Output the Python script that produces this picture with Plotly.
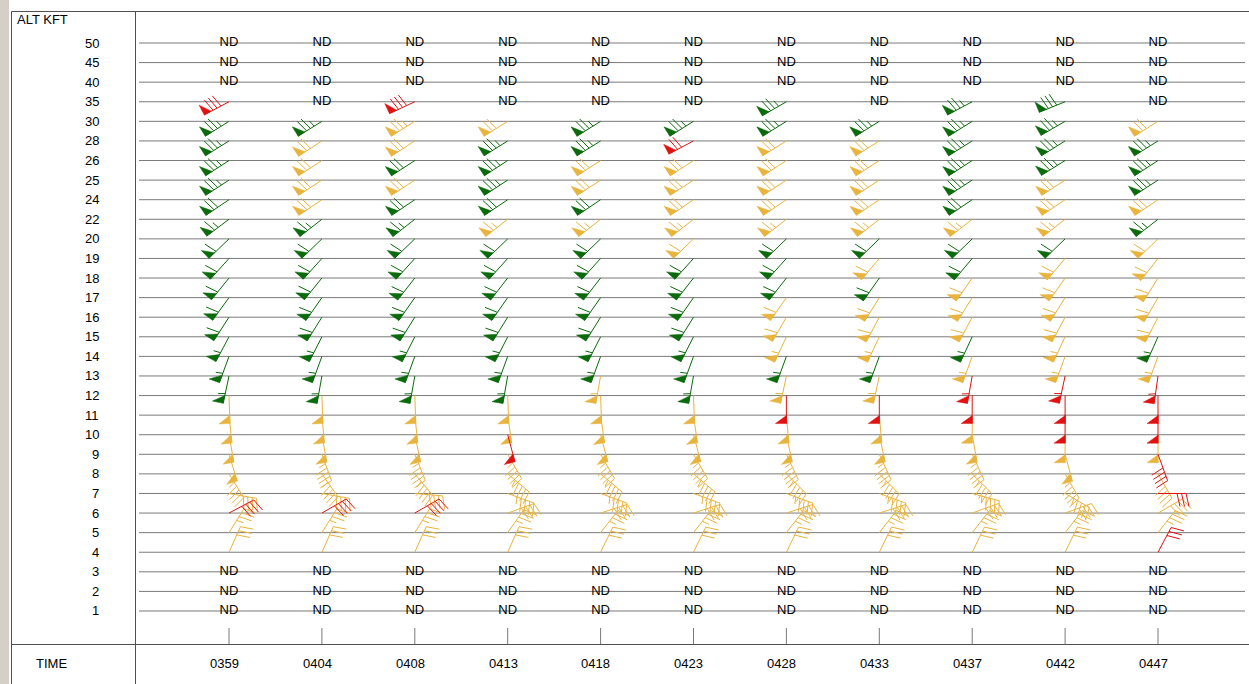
import numpy as np
import plotly.graph_objects as go

times = ['0359', '0404', '0408', '0413', '0418', '0423', '0428', '0433', '0437', '0442', '0447']
levels = [50, 45, 40, 35, 30, 28, 26, 25, 24, 22, 20, 19, 18, 17, 16, 15, 14, 13, 12, 11, 10, 9, 8, 7, 6, 5, 4, 3, 2, 1]
barb_levels = [35, 30, 28, 26, 25, 24, 22, 20, 19, 18, 17, 16, 15, 14, 13, 12, 11, 10, 9, 8, 7, 6, 5, 4]
nd_levels = [50, 45, 40, 3, 2, 1]

# quality colour codes per time (levels 35 .. 4), '-' = no data
qc_0359 = "RGGGGGGGGGGGGGGYYYYYYRYY"
qc_0404 = "-GYYYYGGGGGGGGGYYYYYYRYY"
qc_0408 = "RYYGYGGGGGGGGGGYYYYYYRYY"
qc_0413 = "-YGGGGYGGGGGGGGYYRYYYYYY"
qc_0418 = "-GGYYGYGGGGGGGYYYYYYYYYY"
qc_0423 = "-GRYYYYYGGGGGGGYYYYYYYYY"
qc_0428 = "GGYYYYYGGGYYYGYRYYYYYYYY"
qc_0433 = "-GYYYYYGYGYYYGYRYYYYYYYY"
qc_0437 = "GGGGGGYGGYYYGYRRYYYYYYYY"
qc_0442 = "GGGGYYYGYYYYYYRRRYYYYYYY"
qc_0447 = "-YGGGYGYYYYYGYRRRYRYRYYR"

# wind direction (deg, from) per time (levels 35 .. 4)
dir_0359 = [242, 238, 238, 237, 237, 236, 233, 226, 222, 219, 216, 213, 208, 200, 192, 178, 174, 170, 163, 148, 100, 62, 32, 24]
dir_0404 = [0, 238, 237, 237, 237, 236, 232, 226, 222, 219, 215, 212, 207, 200, 190, 178, 175, 170, 160, 145, 100, 60, 32, 24]
dir_0408 = [245, 238, 237, 237, 237, 236, 232, 226, 222, 218, 215, 212, 207, 200, 190, 178, 174, 168, 158, 140, 95, 60, 32, 24]
dir_0413 = [0, 238, 238, 237, 237, 236, 232, 226, 222, 218, 215, 212, 207, 200, 190, 178, 172, 165, 150, 130, 110, 70, 35, 24]
dir_0418 = [0, 238, 238, 237, 237, 236, 232, 226, 222, 218, 215, 212, 207, 200, 190, 178, 172, 165, 150, 130, 110, 72, 38, 26]
dir_0423 = [0, 238, 242, 237, 237, 236, 232, 226, 222, 218, 215, 212, 207, 200, 190, 178, 172, 165, 150, 130, 110, 72, 38, 26]
dir_0428 = [240, 238, 238, 237, 237, 236, 232, 226, 222, 218, 215, 210, 205, 200, 192, 180, 175, 168, 155, 135, 110, 72, 38, 26]
dir_0433 = [0, 238, 238, 237, 237, 236, 232, 226, 220, 215, 212, 208, 205, 200, 192, 180, 175, 168, 155, 135, 110, 72, 38, 26]
dir_0437 = [242, 238, 238, 237, 237, 236, 232, 226, 220, 215, 212, 208, 205, 200, 190, 180, 180, 170, 155, 135, 105, 70, 38, 26]
dir_0442 = [248, 240, 238, 238, 237, 236, 232, 226, 220, 215, 212, 208, 205, 200, 192, 180, 180, 180, 165, 150, 120, 70, 38, 26]
dir_0447 = [0, 238, 238, 237, 237, 236, 232, 226, 218, 212, 210, 207, 204, 200, 188, 180, 180, 180, 160, 150, 90, 60, 38, 28]

# wind speed (kt) per time (levels 35 .. 4)
spd_0359 = [80, 75, 75, 75, 75, 70, 65, 60, 60, 60, 60, 60, 55, 55, 55, 50, 50, 50, 50, 45, 40, 40, 35, 30]
spd_0404 = [0, 75, 70, 70, 70, 70, 65, 60, 60, 60, 60, 60, 55, 55, 55, 50, 50, 50, 45, 45, 40, 40, 35, 30]
spd_0408 = [80, 75, 70, 70, 70, 70, 65, 60, 60, 60, 60, 60, 55, 55, 55, 50, 50, 50, 45, 45, 40, 40, 35, 30]
spd_0413 = [0, 70, 75, 75, 75, 70, 65, 60, 60, 60, 60, 60, 55, 55, 55, 50, 50, 50, 45, 45, 45, 40, 35, 30]
spd_0418 = [0, 75, 75, 70, 70, 70, 65, 60, 60, 60, 60, 60, 55, 55, 55, 50, 50, 50, 45, 45, 45, 40, 35, 30]
spd_0423 = [0, 75, 70, 70, 70, 70, 65, 60, 60, 60, 60, 60, 55, 55, 55, 50, 50, 50, 45, 45, 45, 40, 35, 30]
spd_0428 = [75, 75, 70, 70, 70, 70, 65, 60, 60, 60, 60, 60, 55, 55, 55, 50, 50, 50, 45, 45, 45, 40, 35, 30]
spd_0433 = [0, 75, 70, 70, 70, 70, 65, 60, 60, 60, 60, 60, 55, 55, 55, 50, 50, 50, 45, 45, 45, 40, 35, 30]
spd_0437 = [75, 75, 75, 75, 75, 70, 65, 60, 60, 60, 60, 60, 55, 55, 55, 50, 50, 50, 45, 45, 45, 40, 35, 30]
spd_0442 = [80, 75, 75, 75, 70, 70, 65, 60, 60, 60, 60, 60, 55, 55, 55, 50, 50, 50, 50, 45, 45, 40, 35, 30]
spd_0447 = [0, 70, 75, 75, 75, 70, 65, 60, 60, 60, 60, 60, 55, 55, 55, 50, 50, 50, 40, 40, 30, 40, 35, 30]

qc_all = [qc_0359, qc_0404, qc_0408, qc_0413, qc_0418, qc_0423, qc_0428, qc_0433, qc_0437, qc_0442, qc_0447]
dir_all = [dir_0359, dir_0404, dir_0408, dir_0413, dir_0418, dir_0423, dir_0428, dir_0433, dir_0437, dir_0442, dir_0447]
spd_all = [spd_0359, spd_0404, spd_0408, spd_0413, spd_0418, spd_0423, spd_0428, spd_0433, spd_0437, spd_0442, spd_0447]

colors = {'G': '#0b6a0b', 'Y': '#e8b43e', 'R': '#e01212'}

W, H = 1249, 684
x_px0, x_step = 229.0, 92.9
y_px0, y_step = 43.0, 19.586
x_range = [-x_px0 / x_step, (W - x_px0) / x_step]
y_range = [(H - y_px0) / y_step, -y_px0 / y_step]
sx = W / (x_range[1] - x_range[0])
sy = H / (y_range[0] - y_range[1])
lvl_idx = {lv: k for k, lv in enumerate(levels)}

STAFF = 28.0


def barb(i, k, d, s):
    th = np.radians(d)
    ux, uy = np.sin(th), -np.cos(th)
    px, py = -uy, ux

    def pt(a, b):
        return (i + a / sx, k + b / sy)

    def along(pos, off=0.0, fwd=0.0):
        return pt(ux * (pos + fwd) + px * off, uy * (pos + fwd) + py * off)

    lines, polys = [], []
    lines.append([along(0), along(STAFF)])
    s5 = int(round(s / 5.0)) * 5
    n50, rem = divmod(s5, 50)
    n10, rem = divmod(rem, 10)
    n5 = rem // 5
    pos = STAFF
    for _ in range(n50):
        polys.append([along(pos), along(pos - 8), along(pos, 11), along(pos)])
        pos -= 10
    for _ in range(n10):
        lines.append([along(pos), along(pos, 13, 3)])
        pos -= 4.5
    for _ in range(n5):
        lines.append([along(pos), along(pos, 7, 1.5)])
        pos -= 4.5
    return lines, polys


seg = {c: ([], []) for c in colors}
poly = {c: ([], []) for c in colors}
nd_x, nd_y = [], []
for i, t in enumerate(times):
    for lv in nd_levels:
        nd_x.append(i)
        nd_y.append(lvl_idx[lv])
    for j, lv in enumerate(barb_levels):
        q = qc_all[i][j]
        k = lvl_idx[lv]
        if q == '-':
            nd_x.append(i)
            nd_y.append(k)
            continue
        ls, ps = barb(i, k, dir_all[i][j], spd_all[i][j])
        for ln in ls:
            for (a, b) in ln:
                seg[q][0].append(a)
                seg[q][1].append(b)
            seg[q][0].append(None)
            seg[q][1].append(None)
        for pg in ps:
            for (a, b) in pg:
                poly[q][0].append(a)
                poly[q][1].append(b)
            poly[q][0].append(None)
            poly[q][1].append(None)

fig = go.Figure()
for c, col in colors.items():
    fig.add_trace(go.Scatter(x=seg[c][0], y=seg[c][1], mode='lines',
                             line=dict(color=col, width=1), hoverinfo='skip', showlegend=False))
    fig.add_trace(go.Scatter(x=poly[c][0], y=poly[c][1], mode='lines', fill='toself',
                             fillcolor=col, line=dict(color=col, width=0.5),
                             hoverinfo='skip', showlegend=False))

fig.add_trace(go.Scatter(x=nd_x, y=nd_y, mode='text', text=['ND'] * len(nd_x),
                         textfont=dict(family='Arial', size=13, color='#000000'),
                         textposition='middle center', hoverinfo='skip', showlegend=False))

shapes = []
GRID = '#7a7a7a'
for lv in levels:
    shapes.append(dict(type='line', xref='paper', yref='y', x0=139 / W, x1=1245 / W,
                       y0=lvl_idx[lv], y1=lvl_idx[lv], line=dict(color=GRID, width=1), layer='below'))
for i in range(len(times)):
    shapes.append(dict(type='line', xref='x', yref='paper', x0=i, x1=i,
                       y0=1 - 628 / H, y1=1 - 645 / H, line=dict(color=GRID, width=1)))
BORDER = '#505050'
# window strip and panel borders
shapes.append(dict(type='rect', xref='paper', yref='paper', x0=0, x1=9 / W, y0=0, y1=1,
                   fillcolor='#d4d0c8', line=dict(width=0), layer='below'))
shapes.append(dict(type='line', xref='paper', yref='paper', x0=11.5 / W, x1=1, y0=1 - 11.5 / H, y1=1 - 11.5 / H,
                   line=dict(color=BORDER, width=1)))
shapes.append(dict(type='line', xref='paper', yref='paper', x0=11.5 / W, x1=11.5 / W, y0=0, y1=1 - 11.5 / H,
                   line=dict(color=BORDER, width=1)))
shapes.append(dict(type='line', xref='paper', yref='paper', x0=135.5 / W, x1=135.5 / W, y0=0, y1=1 - 11.5 / H,
                   line=dict(color=BORDER, width=1)))
shapes.append(dict(type='line', xref='paper', yref='paper', x0=11.5 / W, x1=1, y0=1 - 644.5 / H, y1=1 - 644.5 / H,
                   line=dict(color=BORDER, width=1)))

ann = []
FONT = dict(family='Arial', size=13, color='#000000')
ann.append(dict(text='ALT KFT', xref='paper', yref='paper', x=15 / W, y=1 - 19.5 / H,
                xanchor='left', yanchor='middle', showarrow=False, font=FONT))
for lv in levels:
    ann.append(dict(text=str(lv), xref='paper', yref='y', x=101 / W, y=lvl_idx[lv],
                    xanchor='right', yanchor='middle', showarrow=False, font=FONT))
ann.append(dict(text='TIME', xref='paper', yref='paper', x=51 / W, y=1 - 663.5 / H,
                xanchor='center', yanchor='middle', showarrow=False, font=FONT))
for i, t in enumerate(times):
    ann.append(dict(text=t, xref='x', yref='paper', x=i - 0.05, y=1 - 663.5 / H,
                    xanchor='center', yanchor='middle', showarrow=False, font=FONT))

fig.update_layout(
    width=W, height=H, autosize=False,
    margin=dict(l=0, r=0, t=0, b=0, pad=0),
    paper_bgcolor='#ffffff', plot_bgcolor='#ffffff',
    xaxis=dict(range=x_range, visible=False, fixedrange=True),
    yaxis=dict(range=y_range, visible=False, fixedrange=True),
    shapes=shapes, annotations=ann, showlegend=False,
)
fig.write_html('out.html', config={'displayModeBar': False, 'staticPlot': True},
               post_script="document.body.style.margin='0';document.body.style.overflow='hidden';")
